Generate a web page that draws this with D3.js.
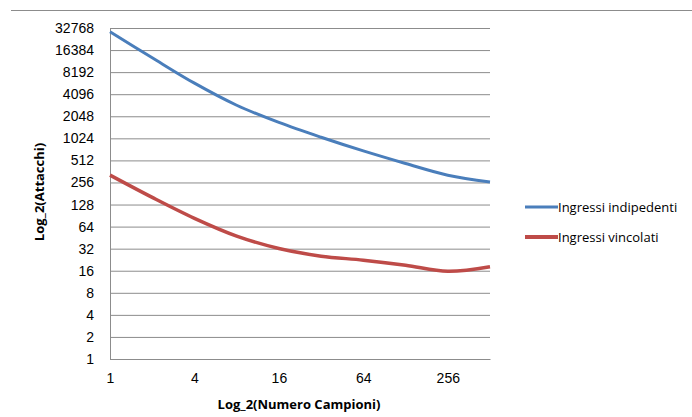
<!DOCTYPE html>
<html>
<head>
<meta charset="utf-8">
<script src="https://cdn.jsdelivr.net/npm/d3@7"></script>
<style>
  body { margin: 0; background: #fff; }
  svg { display: block; font-family: "Open Sans", "Liberation Sans", sans-serif; }
</style>
</head>
<body>
<svg id="chart" width="692" height="417"></svg>
<script>
// samples are powers of 2 (1..512)
const campioni = [1, 2, 4, 8, 16, 32, 64, 128, 256, 512];
const indipendenti = [29100, 12850, 5790, 2896, 1687, 1060, 690, 465, 322, 260];
const vincolati = [322, 160, 83, 47.5, 32.2, 25.3, 22.3, 19, 15.7, 18.1];
const yTicks = [1, 2, 4, 8, 16, 32, 64, 128, 256, 512, 1024, 2048, 4096, 8192, 16384, 32768];
const xTicks = [1, 4, 16, 64, 256];
const seriesNames = ["Ingressi indipedenti", "Ingressi vincolati"];
const seriesColors = ["#4A7EBB", "#BE4B48"];

const svg = d3.select("#chart");
const plot = { left: 110, right: 490, top: 28, bottom: 359 };

const x = d3.scaleLog().base(2).domain([1, 512]).range([plot.left, plot.right]);
const y = d3.scaleLog().base(2).domain([1, 32768]).range([plot.bottom, plot.top]);

// frame top edge
svg.append("line")
  .attr("x1", 11).attr("x2", 692)
  .attr("y1", 10.5).attr("y2", 10.5)
  .attr("stroke", "#8c8c8c").attr("stroke-width", 1);

// y axis + gridlines
const yAxis = svg.append("g")
  .attr("transform", `translate(${plot.left},0)`)
  .call(d3.axisLeft(y).tickValues(yTicks).tickFormat(d3.format("d"))
    .tickSizeInner(-(plot.right - plot.left)).tickSizeOuter(0).tickPadding(16));
yAxis.select(".domain").attr("stroke", "#8c8c8c");
yAxis.selectAll(".tick line").attr("stroke", "#8c8c8c");
yAxis.selectAll(".tick text").attr("fill", "#000").style("font-size", "14px");

// x axis
const xAxis = svg.append("g")
  .attr("transform", `translate(0,${plot.bottom})`)
  .call(d3.axisBottom(x).tickValues(xTicks).tickFormat(d3.format("d"))
    .tickSize(0).tickPadding(14));
xAxis.select(".domain").attr("stroke", "#8c8c8c");
xAxis.selectAll(".tick text").attr("fill", "#000").style("font-size", "14px");

// series
const line = d3.line()
  .x((d, i) => x(campioni[i]))
  .y(d => y(d))
  .curve(d3.curveCatmullRom.alpha(0.5));

[indipendenti, vincolati].forEach((vals, i) => {
  svg.append("path")
    .datum(vals)
    .attr("fill", "none")
    .attr("stroke", seriesColors[i])
    .attr("stroke-width", i === 0 ? 3 : 3.5)
    .attr("d", line);
});

// axis titles
svg.append("text")
  .attr("x", 299).attr("y", 409)
  .attr("text-anchor", "middle")
  .style("font-size", "13px").style("font-weight", "bold")
  .text("Log_2(Numero Campioni)");

svg.append("text")
  .attr("transform", "translate(44,192) rotate(-90)")
  .attr("text-anchor", "middle")
  .style("font-size", "13px").style("font-weight", "bold")
  .text("Log_2(Attacchi)");

// legend
const legend = svg.append("g");
seriesNames.forEach((name, i) => {
  const ly = 207 + i * 30;
  legend.append("line")
    .attr("x1", 525).attr("x2", 558)
    .attr("y1", ly).attr("y2", ly)
    .attr("stroke", seriesColors[i])
    .attr("stroke-width", i === 0 ? 3 : 4);
  legend.append("text")
    .attr("x", 558).attr("y", ly)
    .attr("dy", "0.35em")
    .style("font-size", "13px")
    .text(name);
});
</script>
</body>
</html>
